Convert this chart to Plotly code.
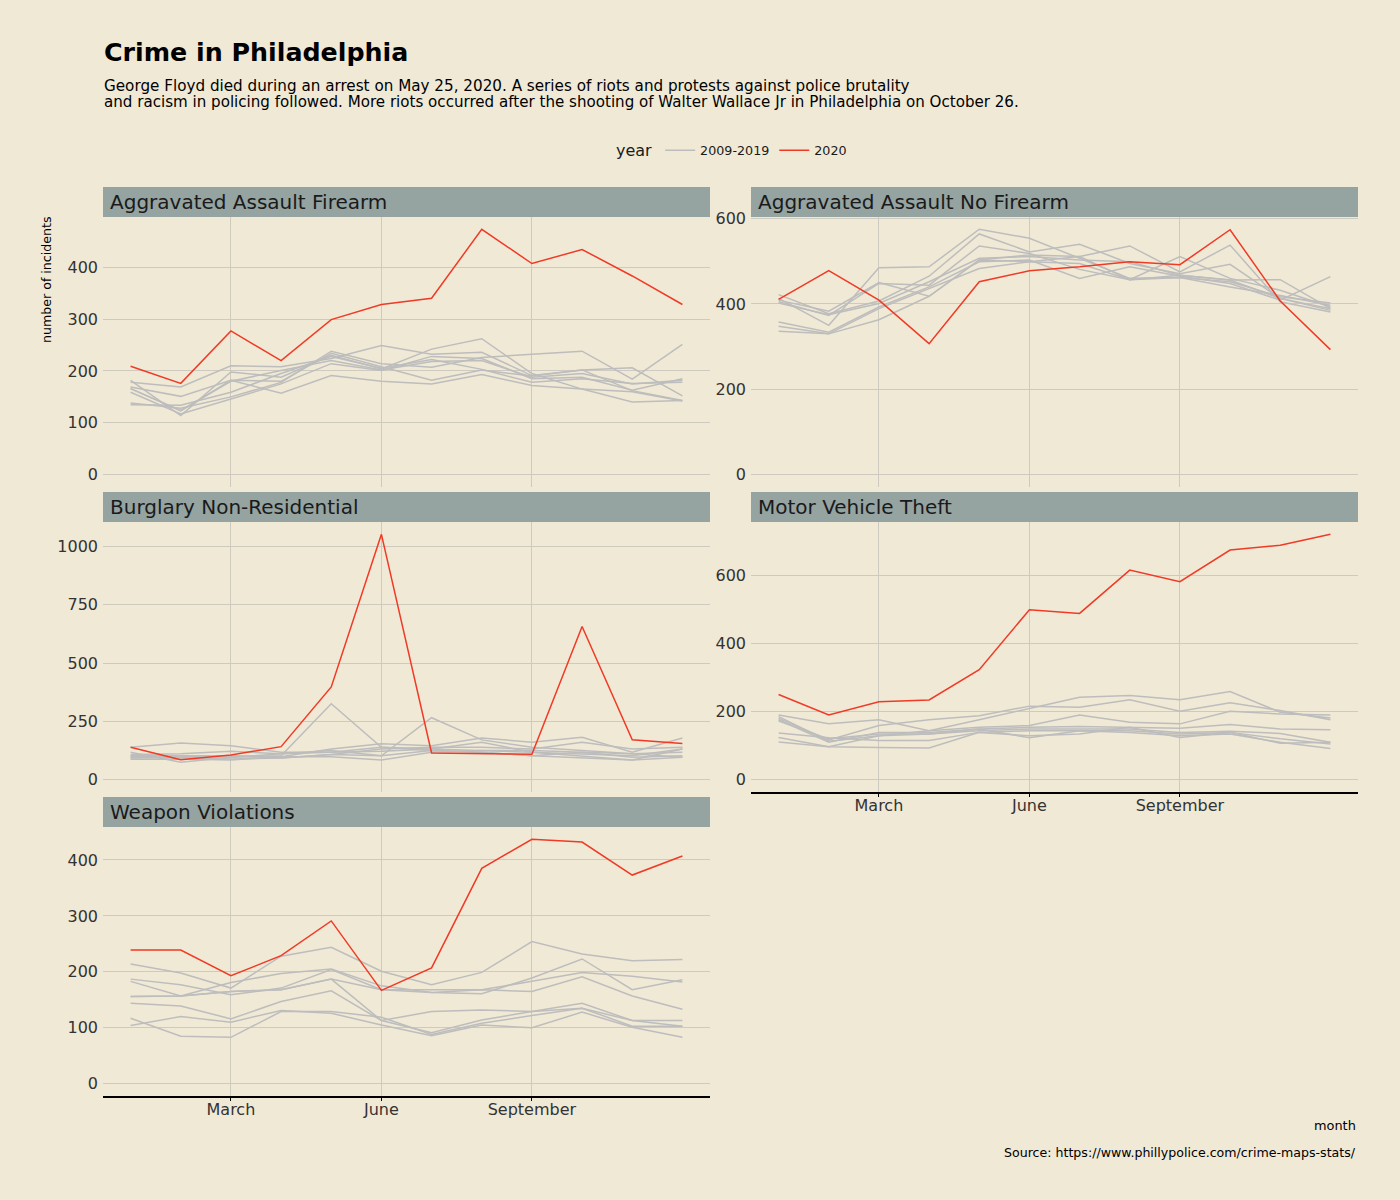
import plotly.graph_objects as go

# ---------------- data ----------------
months = list(range(1, 13))
month_tick_vals = [3, 6, 9]
month_tick_text = ["March", "June", "September"]
gray_years = ["2012", "2013", "2014", "2015", "2016", "2017", "2018", "2019"]

panel_titles = [
    "Aggravated Assault Firearm",
    "Aggravated Assault No Firearm",
    "Burglary Non-Residential",
    "Motor Vehicle Theft",
    "Weapon Violations",
]

aaf_2020 = [209, 176, 277, 220, 299, 328, 340, 473, 407, 434, 383, 328]
aaf_hist = [
    [138, 128, 150, 178, 238, 214, 207, 226, 232, 238, 184, 251],
    [182, 114, 198, 188, 230, 204, 242, 262, 195, 165, 160, 142],
    [178, 169, 210, 208, 224, 249, 232, 236, 191, 202, 206, 152],
    [169, 151, 182, 157, 191, 180, 175, 193, 172, 165, 140, 143],
    [166, 124, 180, 201, 220, 202, 218, 220, 188, 195, 175, 182],
    [159, 117, 146, 175, 214, 201, 228, 224, 185, 188, 163, 185],
    [135, 134, 159, 195, 228, 205, 222, 203, 178, 185, 176, 178],
    [166, 123, 182, 180, 234, 208, 182, 202, 190, 202, 162, 143],
]

aanf_2020 = [411, 478, 409, 307, 452, 478, 487, 499, 492, 574, 407, 293]
aanf_hist = [
    [413, 350, 485, 487, 575, 554, 507, 460, 462, 440, 420, 397],
    [422, 377, 407, 465, 564, 522, 540, 495, 471, 493, 413, 385],
    [409, 383, 450, 418, 503, 515, 511, 536, 475, 538, 405, 381],
    [405, 373, 448, 444, 536, 518, 481, 457, 511, 460, 432, 393],
    [402, 375, 401, 452, 507, 511, 503, 499, 467, 456, 457, 389],
    [358, 334, 393, 440, 499, 503, 460, 487, 465, 448, 409, 464],
    [348, 330, 389, 436, 483, 499, 495, 457, 462, 452, 417, 402],
    [336, 330, 363, 418, 503, 499, 511, 457, 467, 456, 413, 389],
]

burg_2020 = [139, 86, 106, 142, 398, 1052, 115, 111, 109, 657, 171, 155]
burg_hist = [
    [139, 158, 146, 118, 118, 139, 132, 125, 118, 111, 103, 132],
    [118, 75, 96, 103, 326, 139, 125, 118, 103, 93, 85, 96],
    [108, 111, 122, 111, 125, 103, 266, 171, 139, 125, 111, 118],
    [99, 103, 103, 99, 132, 154, 146, 179, 161, 182, 118, 179],
    [93, 96, 89, 93, 108, 132, 139, 139, 132, 161, 132, 139],
    [88, 89, 85, 99, 99, 85, 118, 125, 125, 118, 96, 103],
    [103, 103, 96, 111, 118, 122, 132, 161, 118, 103, 85, 132],
    [95, 96, 103, 93, 108, 103, 125, 118, 103, 118, 111, 96],
]

mvt_2020 = [250, 190, 229, 234, 323, 499, 488, 615, 581, 674, 688, 720]
mvt_hist = [
    [185, 113, 129, 144, 176, 208, 242, 247, 235, 259, 198, 181],
    [180, 117, 159, 176, 188, 216, 213, 235, 201, 226, 203, 176],
    [190, 164, 176, 144, 154, 159, 190, 169, 164, 201, 193, 190],
    [176, 110, 139, 139, 149, 154, 156, 154, 151, 162, 149, 147],
    [172, 120, 134, 134, 144, 149, 149, 149, 139, 142, 136, 110],
    [137, 123, 115, 115, 139, 144, 144, 144, 134, 139, 120, 105],
    [124, 97, 129, 134, 149, 123, 144, 139, 129, 134, 110, 92],
    [111, 97, 95, 93, 139, 129, 134, 154, 124, 139, 107, 110],
]

wv_2020 = [239, 239, 193, 229, 291, 167, 207, 385, 437, 432, 373, 407]
wv_hist = [
    [214, 198, 171, 228, 244, 201, 177, 199, 254, 232, 220, 222],
    [156, 157, 181, 197, 205, 175, 163, 161, 189, 223, 168, 186],
    [183, 157, 165, 168, 187, 168, 168, 168, 183, 199, 192, 182],
    [187, 177, 159, 171, 204, 168, 163, 168, 165, 191, 157, 133],
    [144, 139, 116, 147, 166, 113, 129, 132, 129, 144, 113, 113],
    [117, 85, 83, 129, 129, 119, 88, 108, 122, 135, 103, 103],
    [104, 120, 110, 131, 126, 105, 86, 105, 100, 128, 101, 83],
    [156, 157, 165, 168, 187, 113, 91, 114, 129, 135, 113, 103],
]

series_2020 = [aaf_2020, aanf_2020, burg_2020, mvt_2020, wv_2020]
series_hist = [aaf_hist, aanf_hist, burg_hist, mvt_hist, wv_hist]
y_dticks = [100, 200, 250, 200, 100]

# ---------------- styling ----------------
BG = "#F0E9D6"
STRIP = "#95A3A1"
GRID = "#CFCAC0"
GRAY = "#BDBDBD"
RED = "#F03A26"
FONT = "DejaVu Sans"
W, H = 1400, 1200

pos = [(0, 0), (1, 0), (0, 1), (1, 1), (0, 2)]
col_px = [(103, 710), (751, 1358)]
row_px = [(210.4, 482.2), (517.5, 789.3), (824.5, 1095.3)]
strip_px = [(180.2, 210.4), (487.3, 517.5), (794.3, 824.5)]
bottom_panels = {3, 4}

fig = go.Figure()

for i in range(5):
    ax = "" if i == 0 else str(i + 1)
    hist = series_hist[i]
    for j, vals in enumerate(hist):
        fig.add_trace(go.Scatter(
            x=months, y=vals, mode="lines",
            line=dict(color=GRAY, width=1.5),
            name="2009-2019", legendgroup="hist",
            showlegend=(i == 0 and j == 0),
            xaxis="x" + ax, yaxis="y" + ax,
            hovertext=gray_years[j],
        ))
    fig.add_trace(go.Scatter(
        x=months, y=series_2020[i], mode="lines",
        line=dict(color=RED, width=1.5),
        name="2020", legendgroup="y2020",
        showlegend=(i == 0),
        xaxis="x" + ax, yaxis="y" + ax,
    ))

TICK_SIZE = 16

layout = dict(
    width=W, height=H,
    paper_bgcolor=BG, plot_bgcolor=BG,
    margin=dict(l=0, r=0, t=0, b=0),
    font=dict(family=FONT, color="#333333", size=15),
    showlegend=True,
    legend=dict(
        orientation="h", x=733 / W, xanchor="center", y=1 - 144 / H, yanchor="middle",
        bgcolor="rgba(0,0,0,0)",
        title=dict(text="year", side="left", font=dict(size=16, color="#1a1a1a", family=FONT)),
        font=dict(size=12.7, color="#1a1a1a", family=FONT),
        itemwidth=30,
    ),
)

shapes = []
annotations = []

for i in range(5):
    c, r = pos[i]
    x0, x1 = col_px[c]
    y0, y1 = row_px[r]
    allvals = series_2020[i] + [v for s in series_hist[i] for v in s]
    vmax = max(allvals)
    yr = [-0.05 * vmax, 1.05 * vmax]
    suffix = "" if i == 0 else str(i + 1)
    is_bottom = i in bottom_panels
    layout["xaxis" + suffix] = dict(
        domain=[x0 / W, x1 / W],
        anchor="y" + suffix,
        range=[0.45, 12.55],
        tickvals=month_tick_vals,
        ticktext=month_tick_text,
        showticklabels=is_bottom,
        showgrid=True, gridcolor=GRID, gridwidth=1,
        zeroline=False,
        showline=is_bottom, linecolor="#000000", linewidth=1.5,
        ticks="outside" if is_bottom else "",
        ticklen=3, tickcolor="#000000", tickwidth=1,
        ticklabelstandoff=-5,
        tickfont=dict(size=TICK_SIZE, color="#333333", family=FONT),
        fixedrange=True,
    )
    layout["yaxis" + suffix] = dict(
        domain=[1 - y1 / H, 1 - y0 / H],
        anchor="x" + suffix,
        range=yr,
        dtick=y_dticks[i], tick0=0,
        showgrid=True, gridcolor=GRID, gridwidth=1,
        zeroline=False, showline=False, ticks="",
        ticklabelstandoff=4,
        tickfont=dict(size=TICK_SIZE, color="#333333", family=FONT),
        fixedrange=True,
    )
    sy0, sy1 = strip_px[r]
    shapes.append(dict(
        type="rect", xref="paper", yref="paper",
        x0=x0 / W, x1=x1 / W, y0=1 - sy1 / H, y1=1 - sy0 / H,
        fillcolor=STRIP, line=dict(width=0), layer="below",
    ))
    annotations.append(dict(
        text=panel_titles[i], xref="paper", yref="paper",
        x=(x0 + 5) / W, y=1 - (sy0 + sy1) / 2 / H,
        xanchor="left", yanchor="middle", showarrow=False,
        font=dict(size=20, color="#1a1a1a", family=FONT),
    ))

annotations += [
    dict(text="<b>Crime in Philadelphia</b>", xref="paper", yref="paper",
         x=102 / W, y=1 - 44.3 / H, xanchor="left", yanchor="middle", showarrow=False,
         font=dict(size=25.3, color="#000000", family=FONT)),
    dict(text="George Floyd died during an arrest on May 25, 2020. A series of riots and protests against police brutality",
         xref="paper", yref="paper", x=102 / W, y=1 - 78.5 / H, xanchor="left", yanchor="middle",
         showarrow=False, font=dict(size=15.2, color="#000000", family=FONT)),
    dict(text="and racism in policing followed. More riots occurred after the shooting of Walter Wallace Jr in Philadelphia on October 26.",
         xref="paper", yref="paper", x=102 / W, y=1 - 94.6 / H, xanchor="left", yanchor="middle",
         showarrow=False, font=dict(size=15.1, color="#000000", family=FONT)),
    dict(text="number of incidents", xref="paper", yref="paper", x=47 / W, y=1 - 273.8 / H,
         xanchor="center", yanchor="middle", textangle=-90, showarrow=False,
         font=dict(size=12.6, color="#000000", family=FONT)),
    dict(text="month", xref="paper", yref="paper", x=1358 / W, y=1 - 1125.5 / H,
         xanchor="right", yanchor="middle", showarrow=False,
         font=dict(size=12.9, color="#000000", family=FONT)),
    dict(text="Source: https://www.phillypolice.com/crime-maps-stats/", xref="paper", yref="paper",
         x=1358 / W, y=1 - 1151.7 / H, xanchor="right", yanchor="middle", showarrow=False,
         font=dict(size=12.6, color="#000000", family=FONT)),
]

layout["shapes"] = shapes
layout["annotations"] = annotations
fig.update_layout(**layout)

fig.write_html(
    "out.html",
    config={"displayModeBar": False},
    post_script=(
        "document.documentElement.style.margin='0px';"
        "document.body.style.margin='0px';document.body.style.padding='0px';"
        "document.body.style.overflow='hidden';"
        "var d=document.getElementById('{plot_id}');"
        "d.style.position='fixed';d.style.top='0px';d.style.left='0px';"
    ),
)
